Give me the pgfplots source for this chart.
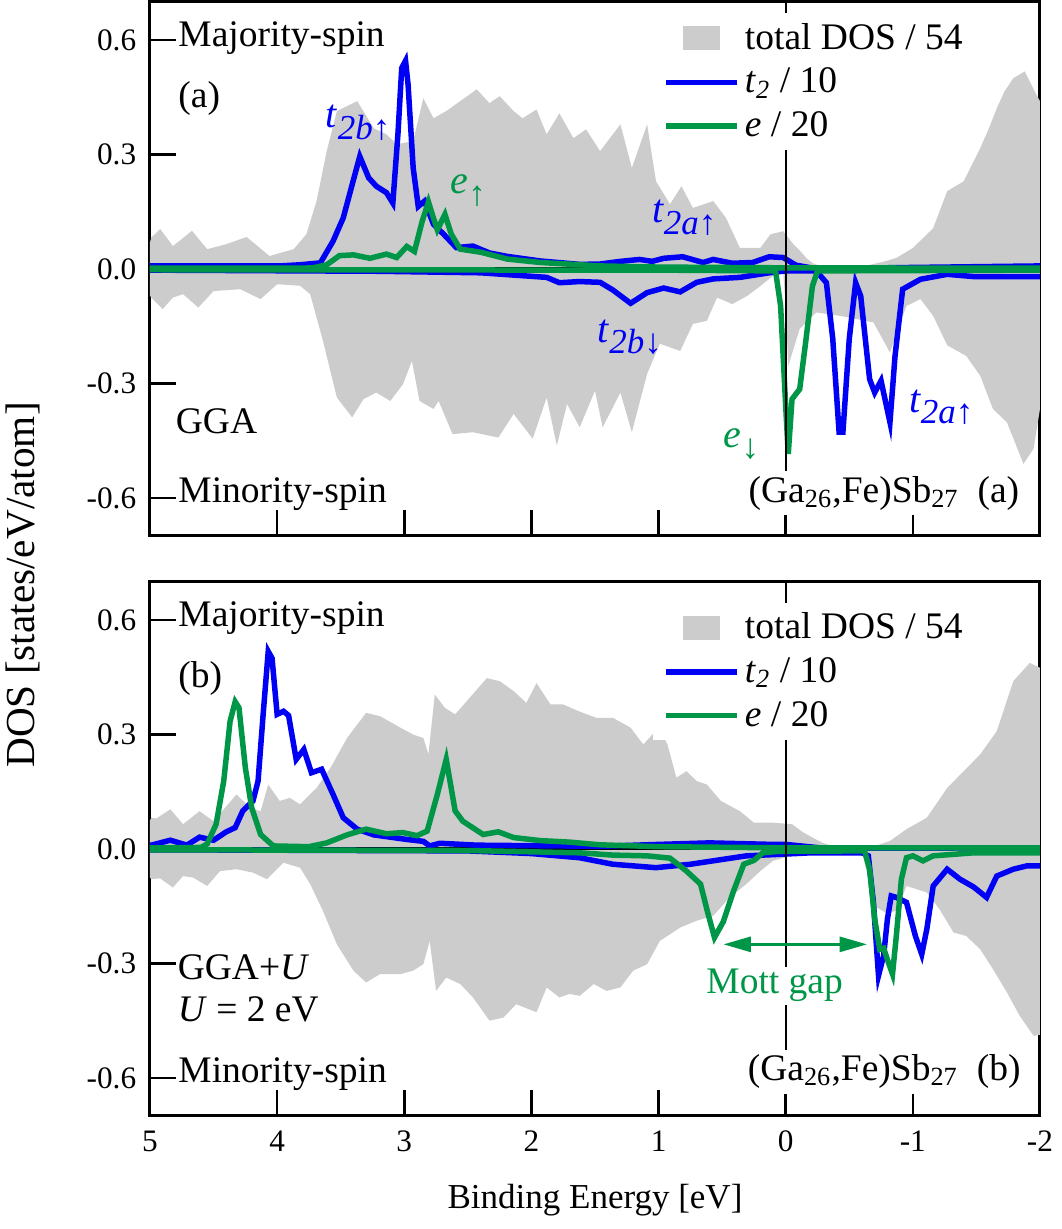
\documentclass[border=0pt]{standalone}
\usepackage{fontspec}
\setmainfont{Liberation Serif}
\usepackage{pgfplots}
\pgfplotsset{compat=1.18}
\usetikzlibrary{arrows.meta}

\definecolor{dosgray}{RGB}{204,204,204}
\definecolor{tblue}{RGB}{0,0,245}
\definecolor{egreen}{RGB}{0,150,72}

% orbital label: big italic letter, lowered subscript
\newcommand{\orb}[2]{\textit{#1}\raisebox{-4.5pt}{\fontsize{14}{15}\selectfont #2}}

\pgfplotsset{
  dospanel/.style={
    scale only axis, width=356pt, height=213.6pt,
    xmin=-2, xmax=5, ymin=-0.7, ymax=0.7, x dir=reverse,
    xtick={-2,-1,0,1,2,3,4,5},
    ytick={-0.6,-0.3,0,0.3,0.6},
    yticklabels={-0.6,-0.3,0.0,0.3,0.6},
    /pgf/number format/assume math mode=true,
    tick align=inside, major tick length=10.4pt,
    xtick pos=bottom, ytick pos=left,
    axis line style={line width=1.2pt},
    major tick style={line width=1pt, black},
    tick label style={font=\fontsize{12.5}{14}\selectfont},
    yticklabel style={xshift=-2pt},
    xticklabel style={yshift=-2.5pt},
    legend cell align=left,
    legend style={draw=none, fill=white, anchor=north west,
      font=\fontsize{15}{17}\selectfont, inner xsep=4pt, inner ysep=2pt,
      row sep=2pt},
    legend image code/.code={\draw[#1] (0cm,0cm) -- (1cm,0cm);},
  },
  tline/.style={tblue, line width=2.2pt, forget plot},
  eline/.style={egreen, line width=2.2pt, forget plot},
  dosfill/.style={fill=dosgray, draw=none, forget plot},
}
\newcommand{\doslegend}{%
  \addlegendimage{legend image code/.code={\fill[dosgray] (0.25cm,-0.16cm) rectangle (0.75cm,0.16cm);}}
  \addlegendentry{total DOS / 54}
  \addlegendimage{tblue, line width=2.2pt}
  \addlegendentry{\textit{t}\textsubscript{\textit{2}} / 10}
  \addlegendimage{egreen, line width=2.2pt}
  \addlegendentry{\textit{e} / 20}
}

\begin{document}
\begin{tikzpicture}
\path (0,0) rectangle (424.4pt,491.6pt);

%% ---------------- (a) GGA ----------------
\begin{axis}[dospanel, at={(60pt,277.2pt)}, anchor=south west,
  xticklabels={}, legend style={at={(0.565,0.98)}}]
\doslegend
% total DOS, majority
\addplot[dosfill] coordinates {
(5,0.07) (4.99,0.082) (4.92,0.105) (4.82,0.06) (4.67,0.10) (4.55,0.052) (4.40,0.065)
(4.24,0.084) (4.06,0.034) (3.87,0.052) (3.77,0.091) (3.69,0.178) (3.61,0.309) (3.53,0.414)
(3.37,0.44) (3.24,0.369) (3.14,0.353) (3.06,0.327) (2.93,0.335) (2.85,0.448) (2.77,0.395)
(2.67,0.414) (2.56,0.44) (2.43,0.471) (2.33,0.435) (2.25,0.453) (2.14,0.414) (2.07,0.395)
(1.96,0.418) (1.88,0.353) (1.78,0.408) (1.67,0.343) (1.57,0.366) (1.46,0.309) (1.30,0.379)
(1.21,0.265) (1.09,0.379) (1.02,0.23) (0.91,0.17) (0.82,0.217) (0.73,0.16) (0.57,0.178)
(0.47,0.134) (0.36,0.055) (0.20,0.055) (0.12,0.091) (0.02,0.099) (-0.06,0.065) (-0.12,0.045)
(-0.17,0.026) (-0.22,0.014) (-0.27,0.008) (-0.35,0.004) (-0.48,0.003) (-0.60,0.006)
(-0.69,0.013) (-0.78,0.02) (-0.87,0.029) (-1.00,0.055) (-1.16,0.107) (-1.27,0.204)
(-1.40,0.23) (-1.53,0.317) (-1.60,0.37) (-1.66,0.421) (-1.72,0.465) (-1.79,0.5) (-1.88,0.518)
(-1.97,0.458) (-2,0.44)
} \closedcycle;
% total DOS, minority
\addplot[dosfill] coordinates {
(5,-0.07) (4.99,-0.075) (4.90,-0.105) (4.82,-0.075) (4.74,-0.066) (4.62,-0.101) (4.50,-0.058)
(4.29,-0.053) (4.13,-0.079) (4.00,-0.04) (3.82,-0.044) (3.74,-0.066) (3.64,-0.188) (3.53,-0.337)
(3.41,-0.389) (3.32,-0.341) (3.22,-0.324) (3.11,-0.346) (3.01,-0.302) (2.94,-0.241) (2.88,-0.346)
(2.77,-0.367) (2.73,-0.346) (2.62,-0.433) (2.46,-0.428) (2.26,-0.442) (2.14,-0.38) (1.99,-0.445)
(1.88,-0.337) (1.80,-0.463) (1.72,-0.354) (1.62,-0.415) (1.50,-0.319) (1.44,-0.415) (1.30,-0.324)
(1.21,-0.428) (1.09,-0.275) (0.99,-0.196) (0.83,-0.215) (0.73,-0.144) (0.62,-0.136) (0.54,-0.075)
(0.42,-0.092) (0.30,-0.07) (0.20,-0.045) (0.10,-0.018) (0.02,-0.006) (0.0,-0.10) (-0.02,-0.254)
(-0.11,-0.157) (-0.24,-0.114) (-0.43,-0.123) (-0.69,-0.14) (-0.82,-0.219) (-0.95,-0.097)
(-1.06,-0.079) (-1.16,-0.123) (-1.27,-0.2) (-1.42,-0.228) (-1.53,-0.28) (-1.63,-0.367)
(-1.74,-0.402) (-1.87,-0.511) (-1.95,-0.471) (-2,-0.367)
} \closedcycle;
\addplot[black, line width=1.2pt, forget plot] coordinates {(5,0) (-2,0)};
% t2 majority
\addplot[tline] coordinates {
(5,0.008) (4.29,0.008) (3.98,0.008) (3.82,0.011) (3.66,0.016) (3.56,0.073) (3.48,0.134)
(3.41,0.221) (3.35,0.295) (3.28,0.239) (3.22,0.217) (3.14,0.2) (3.09,0.173) (3.05,0.353)
(3.02,0.527) (2.99,0.546) (2.97,0.483) (2.93,0.265) (2.89,0.164) (2.84,0.178) (2.77,0.117)
(2.69,0.091) (2.59,0.056) (2.46,0.06) (2.33,0.042) (2.19,0.033) (1.93,0.021) (1.62,0.012)
(1.46,0.013) (1.30,0.02) (1.15,0.025) (1.05,0.02) (0.96,0.028) (0.81,0.032) (0.65,0.017)
(0.57,0.025) (0.42,0.015) (0.26,0.017) (0.13,0.032) (0.02,0.030) (-0.08,0.01) (-0.2,0.003)
(-0.5,0.002) (-1.0,0.004) (-1.5,0.006) (-2,0.008)
};
% t2 minority
\addplot[tline] coordinates {
(5,-0.003) (3.2,-0.006) (2.4,-0.01) (1.88,-0.022) (1.78,-0.036) (1.62,-0.033) (1.46,-0.035)
(1.36,-0.055) (1.22,-0.09) (1.09,-0.062) (0.96,-0.05) (0.83,-0.06) (0.70,-0.035) (0.57,-0.026)
(0.36,-0.022) (0.13,-0.01) (0.0,-0.005) (-0.24,-0.005) (-0.32,-0.036) (-0.37,-0.183)
(-0.42,-0.428) (-0.45,-0.428) (-0.50,-0.183) (-0.55,-0.036) (-0.59,-0.071) (-0.66,-0.289)
(-0.70,-0.324) (-0.75,-0.293) (-0.82,-0.402) (-0.86,-0.228) (-0.92,-0.053) (-1.06,-0.027)
(-1.27,-0.014) (-1.48,-0.02) (-2,-0.02)
};
% e majority
\addplot[eline] coordinates {
(5,0.002) (3.82,0.002) (3.72,0.003) (3.61,0.011) (3.51,0.035) (3.40,0.037) (3.27,0.028)
(3.14,0.039) (3.06,0.030) (2.98,0.059) (2.92,0.046) (2.86,0.124) (2.81,0.176) (2.77,0.133)
(2.74,0.103) (2.68,0.143) (2.63,0.091) (2.56,0.052) (2.40,0.044) (2.19,0.026) (1.93,0.017)
(1.46,0.008) (1.0,0.005) (0,0.003) (-2,0.002)
};
% e minority
\addplot[eline] coordinates {
(5,-0.002) (1,-0.003) (0.08,-0.005) (0.04,-0.097) (0.0,-0.36) (-0.02,-0.485) (-0.05,-0.341)
(-0.11,-0.315) (-0.16,-0.184) (-0.21,-0.045) (-0.25,-0.005) (-2,-0.003)
};
\addplot[black, line width=0.8pt, forget plot] coordinates {(0,-0.7) (0,0.7)};

\node[anchor=base west, inner sep=0pt, font=\fontsize{15}{17}\selectfont] at (axis cs:4.78,0.584) {Majority-spin};
\node[anchor=base west, inner sep=0pt, font=\fontsize{15}{17}\selectfont] at (axis cs:4.78,0.424) {(a)};
\node[anchor=base west, inner sep=0pt, font=\fontsize{15}{17}\selectfont] at (axis cs:4.80,-0.431) {GGA};
\node[anchor=base west, inner sep=0pt, font=\fontsize{15}{17}\selectfont] at (axis cs:4.78,-0.613) {Minority-spin};
\node[anchor=base east, fill=white, inner sep=2pt, font=\fontsize{15}{17}\selectfont] at (axis cs:-1.88,-0.612)
  {(Ga\textsubscript{26},Fe)Sb\textsubscript{27}\ \ (a)};
\node[anchor=base west, inner sep=0pt, text=tblue, font=\fontsize{16}{18}\selectfont] at (axis cs:3.62,0.37) {\orb{t}{\textit{2b}↑}};
\node[anchor=base west, inner sep=0pt, text=egreen, font=\fontsize{16}{18}\selectfont] at (axis cs:2.64,0.197) {\orb{e}{↑}};
\node[anchor=base west, inner sep=0pt, text=tblue, font=\fontsize{16}{18}\selectfont] at (axis cs:1.055,0.121) {\orb{t}{\textit{2a}↑}};
\node[anchor=base west, inner sep=0pt, text=tblue, font=\fontsize{16}{18}\selectfont] at (axis cs:1.485,-0.193) {\orb{t}{\textit{2b}↓}};
\node[anchor=base west, inner sep=0pt, text=egreen, font=\fontsize{16}{18}\selectfont] at (axis cs:0.49,-0.468) {\orb{e}{↓}};
\node[anchor=base west, inner sep=0pt, text=tblue, font=\fontsize{16}{18}\selectfont] at (axis cs:-0.966,-0.376) {\orb{t}{\textit{2a}↑}};
\end{axis}

%% ---------------- (b) GGA+U ----------------
\begin{axis}[dospanel, at={(60pt,45.2pt)}, anchor=south west,
  xticklabels={-2,-1,0,1,2,3,4,5}, legend style={at={(0.565,0.962)}}]
\doslegend
% total DOS, majority
\addplot[dosfill] coordinates {
(5,0.075) (4.99,0.082) (4.95,0.08) (4.84,0.104) (4.74,0.065) (4.61,0.099) (4.50,0.073)
(4.32,0.143) (4.21,0.108) (4.13,0.099) (4.07,0.169) (3.98,0.126) (3.90,0.134) (3.82,0.117)
(3.69,0.16) (3.58,0.213) (3.45,0.291) (3.30,0.357) (3.19,0.348) (3.03,0.318) (2.93,0.30)
(2.85,0.291) (2.81,0.248) (2.76,0.405) (2.68,0.37) (2.60,0.353) (2.51,0.387) (2.35,0.448)
(2.25,0.44) (2.14,0.414) (2.04,0.383) (1.96,0.435) (1.85,0.379) (1.75,0.379) (1.62,0.36)
(1.49,0.344) (1.36,0.344) (1.22,0.318) (1.12,0.274) (1.00,0.318) (0.93,0.274) (0.86,0.187)
(0.78,0.204) (0.70,0.178) (0.62,0.169) (0.51,0.126) (0.36,0.099) (0.25,0.069) (0.10,0.069)
(-0.05,0.065) (-0.13,0.045) (-0.21,0.03) (-0.29,0.016) (-0.37,0.008) (-0.5,0.004) (-0.63,0.003)
(-0.72,0.01) (-0.82,0.021) (-0.95,0.052) (-1.11,0.082) (-1.27,0.16) (-1.40,0.204) (-1.53,0.248)
(-1.66,0.309) (-1.79,0.44) (-1.92,0.488) (-2,0.475)
} \closedcycle;
% total DOS, minority
\addplot[dosfill] coordinates {
(5,-0.075) (4.99,-0.079) (4.92,-0.077) (4.82,-0.101) (4.74,-0.071) (4.66,-0.075) (4.55,-0.097)
(4.45,-0.058) (4.32,-0.053) (4.19,-0.062) (4.08,-0.079) (3.95,-0.036) (3.82,-0.049) (3.74,-0.092)
(3.64,-0.162) (3.53,-0.25) (3.40,-0.319) (3.30,-0.35) (3.19,-0.328) (3.03,-0.328) (2.93,-0.319)
(2.85,-0.302) (2.80,-0.241) (2.75,-0.372) (2.67,-0.337) (2.56,-0.354) (2.46,-0.389) (2.33,-0.45)
(2.22,-0.442) (2.12,-0.407) (1.96,-0.428) (1.88,-0.363) (1.78,-0.389) (1.70,-0.38) (1.62,-0.385)
(1.51,-0.354) (1.41,-0.372) (1.30,-0.363) (1.20,-0.319) (1.09,-0.302) (0.99,-0.241) (0.83,-0.206)
(0.70,-0.188) (0.57,-0.175) (0.44,-0.127) (0.31,-0.092) (0.20,-0.058) (0.10,-0.031) (0.01,-0.023)
(-0.05,-0.008) (-0.3,-0.004) (-0.6,-0.005) (-0.63,-0.05) (-0.70,-0.15) (-0.80,-0.17) (-0.88,-0.16)
(-0.95,-0.097) (-1.11,-0.114) (-1.21,-0.158) (-1.32,-0.219) (-1.42,-0.228) (-1.53,-0.263)
(-1.63,-0.315) (-1.74,-0.376) (-1.84,-0.437) (-1.95,-0.49) (-2,-0.487)
} \closedcycle;
\addplot[black, line width=1.2pt, forget plot] coordinates {(5,0) (-2,0)};
% t2 majority
\addplot[tline] coordinates {
(5,0.01) (4.99,0.01) (4.84,0.023) (4.71,0.01) (4.61,0.031) (4.50,0.023) (4.40,0.045) (4.33,0.056)
(4.27,0.10) (4.19,0.126) (4.15,0.178) (4.11,0.353) (4.07,0.518) (4.04,0.50) (4.00,0.353)
(3.95,0.361) (3.91,0.35) (3.85,0.235) (3.79,0.261) (3.73,0.2) (3.65,0.209) (3.56,0.143)
(3.48,0.082) (3.37,0.052) (3.24,0.037) (2.98,0.025) (2.85,0.02) (2.80,0.008) (2.72,0.015)
(2.43,0.01) (1.46,0.007) (1.0,0.012) (0.6,0.016) (0.1,0.012) (0,0.012) (-0.3,0.002) (-2,0.003)
};
% t2 minority
\addplot[tline] coordinates {
(5,-0.002) (2.5,-0.005) (2.0,-0.012) (1.62,-0.023) (1.36,-0.04) (1.02,-0.049) (0.75,-0.04)
(0.57,-0.031) (0.31,-0.018) (0.05,-0.014) (-0.2,-0.01) (-0.6,-0.01) (-0.65,-0.018) (-0.69,-0.14)
(-0.73,-0.332) (-0.77,-0.28) (-0.80,-0.184) (-0.83,-0.123) (-0.87,-0.127) (-0.95,-0.14)
(-1.02,-0.228) (-1.07,-0.276) (-1.11,-0.21) (-1.16,-0.097) (-1.27,-0.053) (-1.37,-0.079)
(-1.48,-0.1) (-1.58,-0.127) (-1.66,-0.071) (-1.79,-0.053) (-1.90,-0.044) (-2,-0.044)
};
% e majority
\addplot[eline] coordinates {
(5,0.003) (4.6,0.004) (4.55,0.013) (4.48,0.065) (4.42,0.178) (4.37,0.335) (4.33,0.386) (4.30,0.37)
(4.25,0.213) (4.20,0.108) (4.13,0.038) (4.03,0.008) (3.75,0.006) (3.61,0.016) (3.45,0.037)
(3.30,0.052) (3.14,0.04) (3.01,0.043) (2.90,0.035) (2.82,0.047) (2.74,0.143) (2.67,0.235)
(2.60,0.1) (2.54,0.073) (2.38,0.038) (2.26,0.045) (2.14,0.03) (1.93,0.022) (1.70,0.018)
(1.46,0.011) (1.0,0.006) (0,0.003) (-2,0.003)
};
% e minority
\addplot[eline] coordinates {
(5,-0.002) (2.5,-0.004) (1.62,-0.01) (1.36,-0.016) (1.09,-0.018) (0.91,-0.024) (0.78,-0.058)
(0.67,-0.092) (0.61,-0.171) (0.56,-0.232) (0.49,-0.19) (0.41,-0.11) (0.33,-0.04) (0.25,-0.03)
(0.18,-0.01) (0.05,-0.006) (-0.62,-0.005) (-0.66,-0.053) (-0.70,-0.184) (-0.74,-0.263)
(-0.77,-0.26) (-0.80,-0.29) (-0.84,-0.328) (-0.87,-0.228) (-0.91,-0.079) (-0.95,-0.023)
(-1.0,-0.018) (-1.08,-0.031) (-1.16,-0.018) (-1.48,-0.01) (-2,-0.01)
};
\addplot[black, line width=0.8pt, forget plot] coordinates {(0,-0.7) (0,0.7)};

\node[anchor=base west, inner sep=0pt, font=\fontsize{15}{17}\selectfont] at (axis cs:4.78,0.584) {Majority-spin};
\node[anchor=base west, inner sep=0pt, font=\fontsize{15}{17}\selectfont] at (axis cs:4.78,0.424) {(b)};
\node[anchor=base west, inner sep=0pt, font=\fontsize{15}{17}\selectfont] at (axis cs:4.785,-0.341) {GGA+\textit{U}};
\node[anchor=base west, inner sep=0pt, font=\fontsize{15}{17}\selectfont] at (axis cs:4.785,-0.452) {\textit{U} = 2 eV};
\node[anchor=base west, inner sep=0pt, font=\fontsize{15}{17}\selectfont] at (axis cs:4.78,-0.613) {Minority-spin};
\node[anchor=base east, fill=white, inner sep=2pt, font=\fontsize{15}{17}\selectfont] at (axis cs:-1.89,-0.607)
  {(Ga\textsubscript{26},Fe)Sb\textsubscript{27}\ \ (b)};
\draw[egreen, line width=1.2pt, {Triangle[length=11pt,width=6pt]}-{Triangle[length=11pt,width=6pt]}]
  (axis cs:0.49,-0.25) -- (axis cs:-0.64,-0.25);
\node[anchor=base west, fill=white, inner sep=1pt, text=egreen, font=\fontsize{15}{17}\selectfont] at (axis cs:0.647,-0.38) {Mott gap};
\end{axis}

\node[font=\fontsize{14}{16}\selectfont] at (238pt,11.6pt) {Binding Energy [eV]};
\node[rotate=90, inner sep=0pt, font=\fontsize{16.5}{18}\selectfont] at (9pt,257.6pt) {DOS [states/eV/atom]};
\end{tikzpicture}
\end{document}
